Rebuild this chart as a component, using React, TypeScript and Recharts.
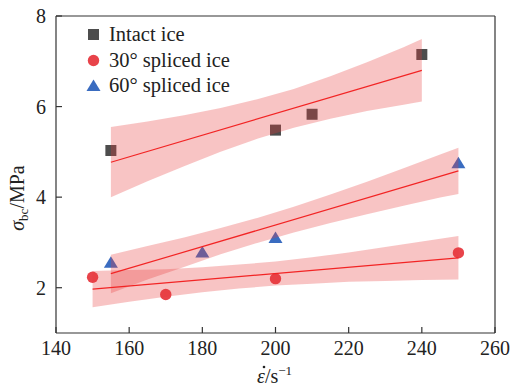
import React from 'react'
import { ComposedChart, Scatter, Line, Area, XAxis, YAxis } from 'recharts'

// strain rate (s^-1) and peak compressive strength (MPa)
const intactRate = [155, 200, 210, 240]
const intactStress = [5.03, 5.48, 5.83, 7.15]
const splice30Rate = [150, 170, 200, 250]
const splice30Stress = [2.23, 1.85, 2.2, 2.77]
const splice60Rate = [155, 180, 200, 250]
const splice60Stress = [2.55, 2.78, 3.1, 4.75]

// linear fit end points
const intactFitRate = [155, 240]
const intactFitStress = [4.77, 6.8]
const splice30FitRate = [150, 250]
const splice30FitStress = [1.97, 2.66]
const splice60FitRate = [155, 250]
const splice60FitStress = [2.31, 4.58]

// 95% confidence bands
const intactBandRate = [155, 165, 175, 185, 195, 205, 215, 225, 235, 240]
const intactBandLow = [4.0, 4.35, 4.68, 5.0, 5.29, 5.53, 5.73, 5.9, 6.04, 6.11]
const intactBandHigh = [5.55, 5.67, 5.81, 5.97, 6.16, 6.39, 6.67, 6.98, 7.31, 7.49]
const splice30BandRate = [150, 160, 170, 180, 190, 200, 210, 220, 230, 240, 250]
const splice30BandLow = [1.57, 1.69, 1.8, 1.9, 1.98, 2.05, 2.09, 2.13, 2.15, 2.17, 2.18]
const splice30BandHigh = [2.37, 2.39, 2.41, 2.45, 2.51, 2.58, 2.67, 2.78, 2.9, 3.02, 3.14]
const splice60BandRate = [155, 165, 175, 185, 195, 205, 215, 225, 235, 245, 250]
const splice60BandLow = [1.88, 2.18, 2.46, 2.74, 2.99, 3.22, 3.43, 3.62, 3.81, 3.99, 4.07]
const splice60BandHigh = [2.73, 2.92, 3.11, 3.32, 3.54, 3.79, 4.06, 4.34, 4.64, 4.94, 5.09]

const xTicks = [140, 160, 180, 200, 220, 240, 260]
const yTicks = [2, 4, 6, 8]

const points = (xs: number[], ys: number[]) => xs.map((x, i) => ({ x, y: ys[i] }))
const band = (xs: number[], lo: number[], hi: number[]) => xs.map((x, i) => ({ x, range: [lo[i], hi[i]] }))

const FONT = '"Liberation Serif", serif'
const AXIS = '#333'
const BAND = '#e83c3c'
const FIT = '#f22424'
const GRAY = '#4d4d4d'
const RED = '#e8434a'
const BLUE = '#3a6cc0'

const SquareDot = (p: any) => <rect x={p.cx - 5.5} y={p.cy - 5.5} width={11} height={11} fill={GRAY} />
const CircleDot = (p: any) => <circle cx={p.cx} cy={p.cy} r={5.7} fill={RED} />
const TriangleDot = (p: any) => (
  <polygon points={`${p.cx},${p.cy - 6.5} ${p.cx - 7},${p.cy + 5} ${p.cx + 7},${p.cy + 5}`} fill={BLUE} />
)

const legendItems = [
  { label: 'Intact ice', mark: <rect x={2} y={2} width={11} height={11} fill={GRAY} /> },
  { label: '30° spliced ice', mark: <circle cx={7.5} cy={7.5} r={5.7} fill={RED} /> },
  { label: '60° spliced ice', mark: <polygon points="7.5,1.5 0.5,13 14.5,13" fill={BLUE} /> },
]

function LegendBox() {
  return (
    <div style={{ position: 'absolute', left: 86, top: 22, fontFamily: FONT, fontSize: 20.5, color: '#222' }}>
      {legendItems.map((it) => (
        <div key={it.label} style={{ display: 'flex', alignItems: 'center', height: 25.5 }}>
          <svg width={15} height={15} style={{ marginRight: 8 }}>{it.mark}</svg>
          <span style={{ lineHeight: '25px' }}>{it.label}</span>
        </div>
      ))}
    </div>
  )
}

export default function App() {
  const tickStyle = { fontFamily: FONT, fontSize: 20, fill: '#222' }
  return (
    <div style={{ position: 'absolute', left: 0, top: 0, width: 512, height: 390, background: '#fff', fontFamily: FONT }}>
      <ComposedChart width={512} height={390} margin={{ top: 15, right: 16, left: 55, bottom: 56 }}>
        <XAxis
          type="number"
          dataKey="x"
          domain={[140, 260]}
          ticks={xTicks}
          interval={0}
          height={1}
          tickSize={-6}
          tickMargin={14}
          tick={tickStyle}
          stroke={AXIS}
          strokeWidth={1.2}
        />
        <YAxis
          type="number"
          domain={[1, 8]}
          ticks={yTicks}
          interval={0}
          width={1}
          tickSize={-6}
          tickMargin={16}
          tick={tickStyle}
          stroke={AXIS}
          strokeWidth={1.2}
        />
        <XAxis xAxisId="top" orientation="top" type="number" domain={[140, 260]} height={1} tick={false} tickLine={false} stroke={AXIS} strokeWidth={1.2} />
        <YAxis yAxisId="right" orientation="right" type="number" domain={[1, 8]} width={1} tick={false} tickLine={false} stroke={AXIS} strokeWidth={1.2} />

        {/* markers sit under the translucent bands */}
        <Scatter data={points(intactRate, intactStress)} dataKey="y" shape={SquareDot} isAnimationActive={false} zIndex={50} />
        <Scatter data={points(splice30Rate, splice30Stress)} dataKey="y" shape={CircleDot} isAnimationActive={false} zIndex={50} />
        <Scatter data={points(splice60Rate, splice60Stress)} dataKey="y" shape={TriangleDot} isAnimationActive={false} zIndex={50} />

        <Area data={band(intactBandRate, intactBandLow, intactBandHigh)} dataKey="range" type="linear" stroke="none" fill={BAND} fillOpacity={0.3} isAnimationActive={false} zIndex={100} />
        <Area data={band(splice30BandRate, splice30BandLow, splice30BandHigh)} dataKey="range" type="linear" stroke="none" fill={BAND} fillOpacity={0.3} isAnimationActive={false} zIndex={100} />
        <Area data={band(splice60BandRate, splice60BandLow, splice60BandHigh)} dataKey="range" type="linear" stroke="none" fill={BAND} fillOpacity={0.3} isAnimationActive={false} zIndex={100} />

        <Line data={points(intactFitRate, intactFitStress)} dataKey="y" stroke={FIT} strokeWidth={1.2} dot={false} activeDot={false} isAnimationActive={false} />
        <Line data={points(splice30FitRate, splice30FitStress)} dataKey="y" stroke={FIT} strokeWidth={1.2} dot={false} activeDot={false} isAnimationActive={false} />
        <Line data={points(splice60FitRate, splice60FitStress)} dataKey="y" stroke={FIT} strokeWidth={1.2} dot={false} activeDot={false} isAnimationActive={false} />

        {/* axis titles; the rate dot is a tiny circle over the epsilon */}
        <text x={257} y={383} fontFamily={FONT} fontSize={20} fill="#222">
          <tspan fontStyle="italic">ε</tspan>/s
          <tspan fontSize={13} dy={-8}>−1</tspan>
        </text>
        <circle cx={264} cy={367} r={1.3} fill="#222" />
        <text transform="translate(24,198) rotate(-90)" textAnchor="middle" fontFamily={FONT} fontSize={20} fill="#222">
          <tspan fontStyle="italic">σ</tspan>
          <tspan fontSize={13} dy={4}>bc</tspan>
          <tspan dy={-4}>/MPa</tspan>
        </text>
      </ComposedChart>
      <LegendBox />
    </div>
  )
}
